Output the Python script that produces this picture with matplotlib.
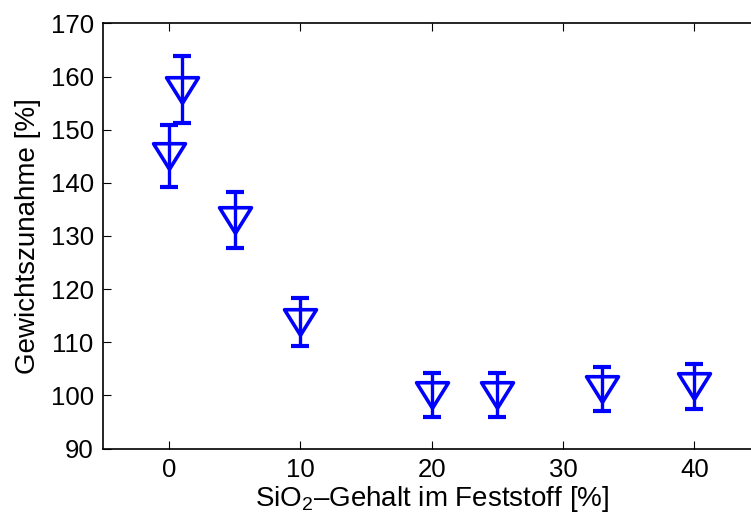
import numpy as np
import matplotlib
matplotlib.use("Agg")
import matplotlib.pyplot as plt
from matplotlib.path import Path

# SiO2 content of the solid [%] and measured weight gain [%] with error
sio2_content = [0, 1, 5, 10, 20, 25, 33, 40]
weight_gain = [145.1, 157.5, 133.0, 113.8, 100.0, 100.0, 101.2, 101.7]
weight_err = [5.8, 6.3, 5.35, 4.6, 4.15, 4.15, 4.2, 4.2]

x_ticks = [0, 10, 20, 30, 40]
y_ticks = [90, 100, 110, 120, 130, 140, 150, 160, 170]

plt.rcParams["font.family"] = ["Liberation Sans", "DejaVu Sans"]
plt.rcParams["mathtext.fontset"] = "custom"
plt.rcParams["mathtext.rm"] = "Liberation Sans"
plt.rcParams["mathtext.it"] = "Liberation Sans"

W, H, DPI = 751, 524, 100
fig = plt.figure(figsize=(W / DPI, H / DPI), dpi=DPI)
ax = fig.add_axes([103.4 / W, 1 - 448.5 / H, (760 - 103.4) / W, (448.5 - 23.4) / H])

# wide, downward-pointing triangle
tri = Path([(-1.0, 0.8), (1.0, 0.8), (0.0, -0.8), (-1.0, 0.8)],
           [Path.MOVETO, Path.LINETO, Path.LINETO, Path.CLOSEPOLY])

blue = (0, 0, 1)
ax.errorbar(sio2_content, weight_gain, yerr=weight_err, fmt="none",
            ecolor=blue, elinewidth=2.4, capsize=6.7, capthick=3.0, zorder=3)
ax.plot(sio2_content, weight_gain, linestyle="none", marker=tri, markersize=23,
        markerfacecolor="none", markeredgecolor=blue, markeredgewidth=2.6,
        zorder=4)

ax.set_xlim(-5, 45)
ax.set_ylim(90, 170)
ax.set_xticks(x_ticks)
ax.set_yticks(y_ticks)
ax.tick_params(direction="in", length=6, width=0.8, top=True, right=False,
               labelsize=18.5, pad=7, colors="black")
ax.spines["right"].set_visible(False)
for s in ax.spines.values():
    s.set_linewidth(1.2)

ax.set_xlabel("SiO$_2$\u2013Gehalt im Feststoff [%]", fontsize=20, labelpad=1)
ax.set_ylabel("Gewichtszunahme [%]", fontsize=20, labelpad=7)

fig.savefig("out.png", dpi=DPI)
